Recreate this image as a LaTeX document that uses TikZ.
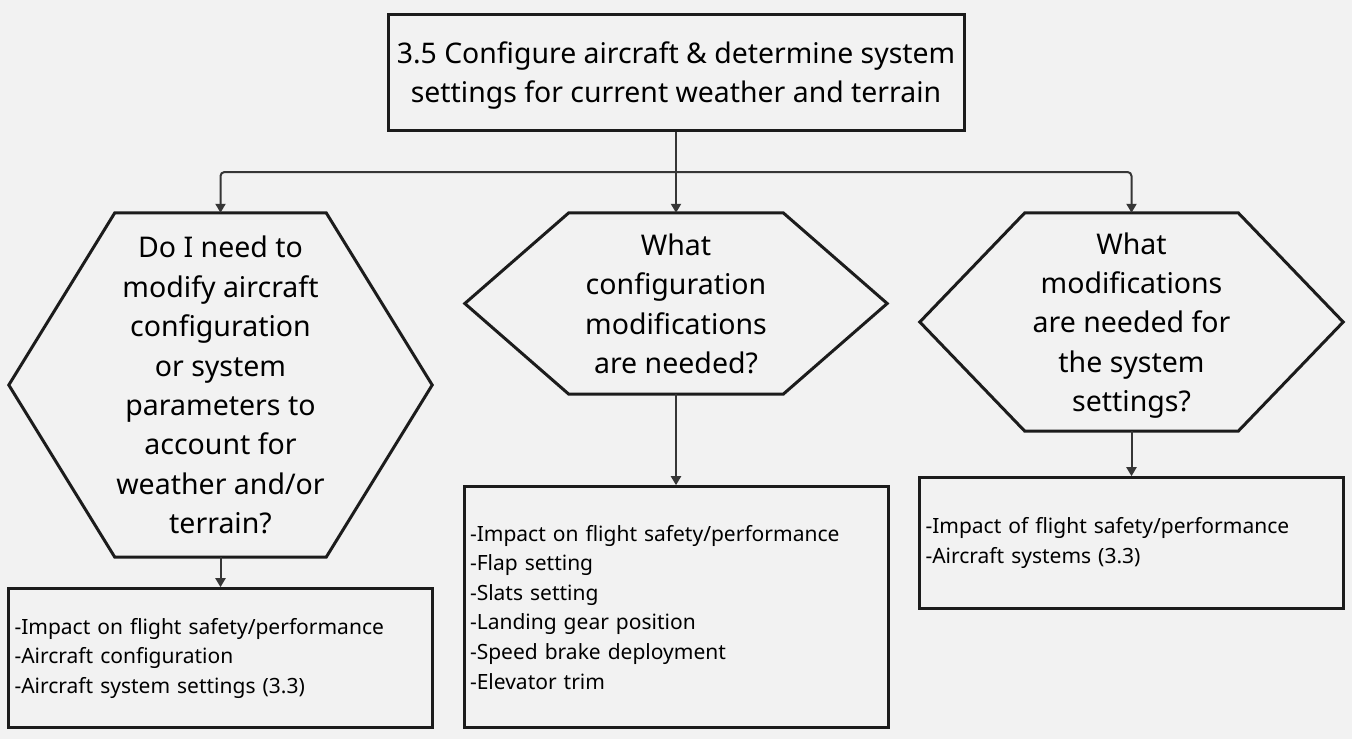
\documentclass[tikz,border=0pt]{standalone}
\usepackage{fontspec}
\setmainfont{Noto Sans}
\usepackage{xcolor}
\usetikzlibrary{arrows.meta, positioning}

\definecolor{bgcol}{HTML}{F2F2F2}
\definecolor{edgecol}{HTML}{1C1C1C}
\definecolor{arrcol}{HTML}{363636}

\tikzset{
  titlebox/.style={draw=edgecol, line width=3pt, minimum width=576pt, minimum height=116pt,
    align=center, text depth=0pt, font=\fontsize{28.4}{39}\selectfont},
  hexbox/.style={minimum width=423pt, align=center, inner sep=0pt, text depth=0pt,
    font=\fontsize{28.5}{39.4}\selectfont},
  hexline/.style={draw=edgecol, line width=3pt, line join=miter},
  listbox/.style={draw=edgecol, line width=3pt, minimum width=424pt, text width=412pt,
    inner xsep=6pt, align=left, font=\fontsize{21}{29.6}\selectfont},
  link/.style={draw=arrcol, line width=2pt, -{Triangle[length=9pt,width=10pt]}}
}

% hexagon round a node: #1 node name, #2 inset of the top and bottom edges
\newcommand{\hexa}[2]{%
  \draw[hexline] ([xshift=#2]#1.north west) -- ([xshift=-#2]#1.north east) -- (#1.east)
    -- ([xshift=-#2]#1.south east) -- ([xshift=#2]#1.south west) -- (#1.west) -- cycle;}

\begin{document}
\begin{tikzpicture}[x=1pt, y=-1pt]
\fill[bgcol] (0,0) rectangle (1352,739);
\useasboundingbox (0,0) rectangle (1352,739);

\node[titlebox] (goal) at (676,72) {3.5 Configure aircraft \& determine system\\settings for current weather and terrain};

\node[hexbox, minimum height=344pt] (q1) at (220.5,385) {Do I need to\\modify aircraft\\configuration\\or system\\parameters to\\account for\\weather and/or\\terrain?};
\node[hexbox, minimum height=181pt, minimum width=422pt] (q2) at (676,303.5) {What\\configuration\\modifications\\are needed?};
\node[hexbox, minimum height=218pt] (q3) at (1131.5,322) {What\\modifications\\are needed for\\the system\\settings?};
\hexa{q1}{106pt}
\hexa{q2}{104pt}
\hexa{q3}{105pt}

\node[listbox, minimum height=139pt, below=30pt of q1] (info1) {-Impact on flight safety/performance\\-Aircraft configuration\\-Aircraft system settings (3.3)};
\node[listbox, minimum height=241pt, below=91pt of q2] (info2) {-Impact on flight safety/performance\\-Flap setting\\-Slats setting\\-Landing gear position\\-Speed brake deployment\\-Elevator trim};
\node[listbox, minimum height=131pt, below=45pt of q3] (info3) {-Impact of flight safety/performance\\-Aircraft systems (3.3)};

% from the goal to the three questions
\coordinate (split) at (676,172);
\draw[link] (goal.south) -- (q2.north);
\draw[link, rounded corners=4pt] (split) -| (q1.north);
\draw[link, rounded corners=4pt] (split) -| (q3.north);

% from each question to its list
\draw[link] (q1.south) -- (info1.north);
\draw[link] (q2.south) -- (info2.north);
\draw[link] (q3.south) -- (info3.north);
\end{tikzpicture}
\end{document}
